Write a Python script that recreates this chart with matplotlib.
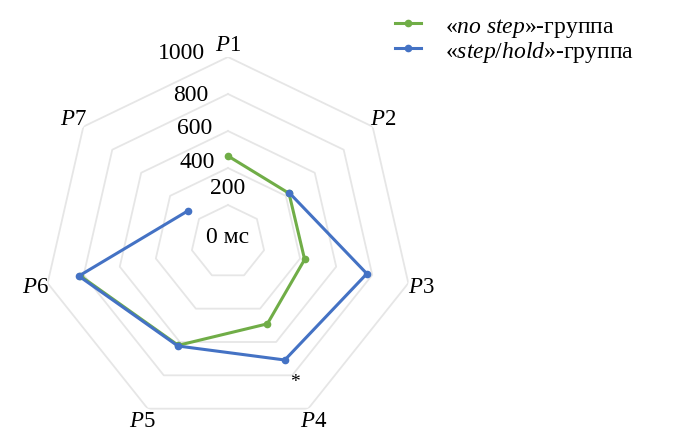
import numpy as np
import matplotlib
matplotlib.use("Agg")
import matplotlib.pyplot as plt

plt.rcParams['font.family'] = ['Liberation Serif', 'DejaVu Serif']
plt.rcParams['mathtext.fontset'] = 'custom'
plt.rcParams['mathtext.rm'] = 'Liberation Serif'
plt.rcParams['mathtext.it'] = 'Liberation Serif:italic'

# data (мс)
categories = ['P1', 'P2', 'P3', 'P4', 'P5', 'P6', 'P7']
no_step = [465, 422, 425, 491, 620, 820, np.nan]
step_hold = [np.nan, 425, 770, 708, 624, 827, 273]
r_ticks = [0, 200, 400, 600, 800, 1000]
r_tick_labels = ['0 мс', '200', '400', '600', '800', '1000']
star_value = 840   # "*" near P4

green = '#70AD47'
blue = '#4472C4'
grid_col = '#E6E6E6'
fs = 17

n = len(categories)
theta = np.arange(n) * 2 * np.pi / n

fig = plt.figure(figsize=(6.79, 4.35), dpi=100)
ax = fig.add_axes([0.0633, 0.0161, 0.5449, 0.8506], projection='polar')
ax.set_theta_offset(np.pi / 2)
ax.set_theta_direction(-1)
ax.set_ylim(0, 1000)
ax.grid(False)
ax.spines['polar'].set_visible(False)
ax.set_xticks([])
ax.set_yticks([])
ax.patch.set_alpha(0)

# heptagon grid
th_closed = np.append(theta, theta[0])
for r in r_ticks[1:]:
    ax.plot(th_closed, [r] * (n + 1), color=grid_col, lw=1.3, zorder=1)

ax.plot(theta, no_step, color=green, lw=2.2, marker='o', ms=4.5, zorder=3,
        label=r'«$\mathit{no\ step}$»-группа')
ax.plot(theta, step_hold, color=blue, lw=2.2, marker='o', ms=4.5, zorder=4,
        label=r'«$\mathit{step/hold}$»-группа')

# radial tick labels along P1
offsets = [(0, 5), (0, 17), (-13, 6), (-16, 3), (-20, -1), (-23, 4)]
for r, lab, off in zip(r_ticks, r_tick_labels, offsets):
    ha = 'center' if r <= 200 else 'right'
    ax.annotate(lab, xy=(0, r), xytext=off, textcoords='offset pixels',
                ha=ha, va='center', fontsize=fs, annotation_clip=False)

# category labels
for t, c in zip(theta, categories):
    ax.text(t, 1070, r'$\mathit{P}$' + c[1:], ha='center', va='center',
            fontsize=16.5, clip_on=False)

ax.text(theta[3], star_value, '*', ha='center', va='center', fontsize=14)

fig.legend(loc='upper left', bbox_to_anchor=(0.565, 0.99), frameon=False,
           fontsize=fs, handlelength=1.1, handletextpad=1.0, labelspacing=0.0,
           borderpad=0.0)

fig.savefig('out.png', dpi=100)
